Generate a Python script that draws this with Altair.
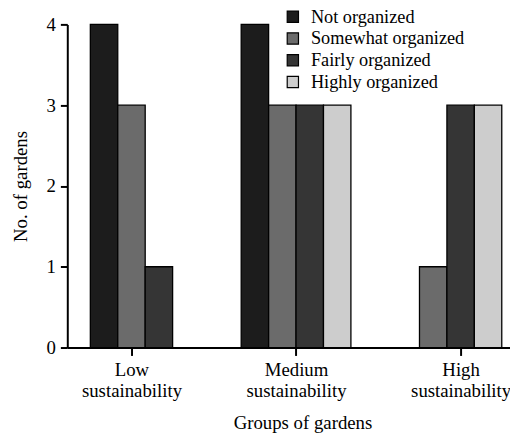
import altair as alt
import pandas as pd

groups = ["Low sustainability", "Medium sustainability", "High sustainability"]
series = ["Not organized", "Somewhat organized", "Fairly organized", "Highly organized"]
colors = ["#1c1c1c", "#6b6b6b", "#353535", "#cdcdcd"]
values = {
    "Not organized": [4, 4, 0],
    "Somewhat organized": [3, 3, 1],
    "Fairly organized": [1, 3, 3],
    "Highly organized": [0, 3, 3],
}
y_ticks = [0, 1, 2, 3, 4]

rows = []
for si, s in enumerate(series):
    for gi, g in enumerate(groups):
        rows.append({"group": g, "gi": gi, "series": s, "si": si, "value": values[s][gi]})
df = pd.DataFrame(rows)

W = 1 / 6  # bar width in group units
FONT = "Liberation Serif"

label_arr = "[" + ",".join(
    "[" + ",".join("'" + p + "'" for p in g.split(" ")) + "]" for g in groups
) + "]"

chart = (
    alt.Chart(df)
    .transform_filter("datum.value > 0")
    .transform_window(k="row_number()", groupby=["group"], sort=[alt.SortField("si")])
    .transform_joinaggregate(n="count()", groupby=["group"])
    .transform_calculate(
        x0=f"datum.gi + (datum.k - 1 - datum.n / 2) * {W}",
        x1=f"datum.gi + (datum.k - datum.n / 2) * {W}",
    )
    .mark_bar(stroke="black", strokeWidth=1.3)
    .encode(
        x=alt.X(
            "x0:Q",
            scale=alt.Scale(domain=[-0.39, 2.3], nice=False, zero=False),
            axis=alt.Axis(
                title="Groups of gardens",
                values=list(range(len(groups))),
                labelExpr=f"{label_arr}[datum.value]",
                tickSize=8,
                labelPadding=5,
                titlePadding=13,
                titleX=238,
                labelLineHeight=22,
                labelBaseline="top",
            ),
        ),
        x2="x1:Q",
        y=alt.Y(
            "value:Q",
            scale=alt.Scale(domain=[0, 4], nice=False),
            axis=alt.Axis(
                title="No. of gardens",
                values=y_ticks,
                format="d",
                tickSize=7,
                labelPadding=5,
                titlePadding=16,
            ),
        ),
        y2=alt.datum(0),
        color=alt.Color(
            "series:N",
            scale=alt.Scale(domain=series, range=colors),
            legend=alt.Legend(
                title=None,
                orient="none",
                legendX=219,
                legendY=-17,
                symbolType="square",
                symbolSize=130,
                symbolStrokeColor="black",
                symbolStrokeWidth=1.2,
                symbolOpacity=1,
                labelFontSize=18.5,
                labelFont=FONT,
                labelColor="black",
                labelOffset=9,
                rowPadding=3,
                padding=0,
            ),
        ),
    )
    .properties(
        width=448,
        height=327,
        autosize=alt.AutoSizeParams(type="none"),
        padding={"left": 60, "top": 14, "right": 0, "bottom": 92},
    )
    .configure_view(stroke=None)
    .configure_axis(
        grid=False,
        domainColor="black",
        domainWidth=2,
        tickColor="black",
        tickWidth=2,
        labelFont=FONT,
        labelFontSize=19,
        labelColor="black",
        titleFont=FONT,
        titleFontSize=19,
        titleFontWeight="normal",
        titleColor="black",
    )
)

chart.save("out.html", embed_options={"renderer": "svg", "actions": False})
